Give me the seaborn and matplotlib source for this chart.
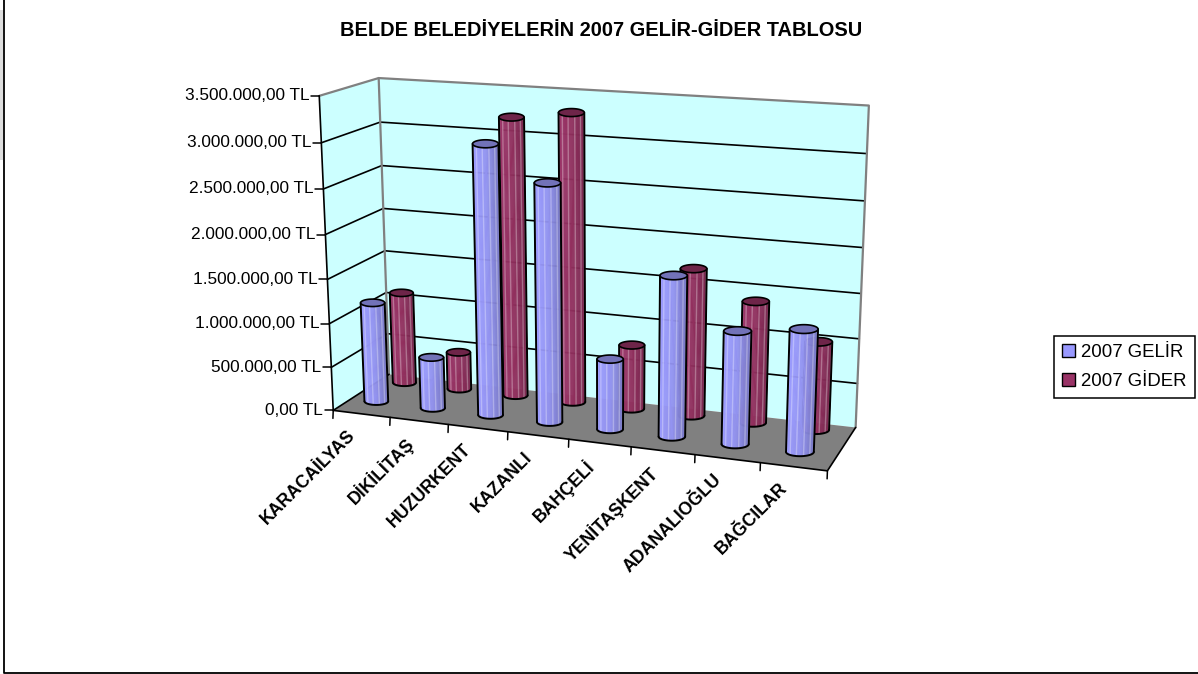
import numpy as np
import pandas as pd
import seaborn as sns
import matplotlib
matplotlib.use('Agg')
import matplotlib.pyplot as plt
from matplotlib.patches import Patch

categories = ['KARACAİLYAS', 'DİKİLİTAŞ', 'HUZURKENT', 'KAZANLI', 'BAHÇELİ',
              'YENİTAŞKENT', 'ADANALIOĞLU', 'BAĞCILAR']
gelir = [1150000, 590000, 3020000, 2650000, 790000, 1770000, 1240000, 1330000]
gider = [1080000, 440000, 3190000, 3280000, 740000, 1670000, 1370000, 990000]
y_ticks = [0, 500000, 1000000, 1500000, 2000000, 2500000, 3000000, 3500000]
y_labels = ['0,00 TL', '500.000,00 TL', '1.000.000,00 TL', '1.500.000,00 TL',
            '2.000.000,00 TL', '2.500.000,00 TL', '3.000.000,00 TL', '3.500.000,00 TL']

BLUE = '#9999FF'
RED = '#993366'
WALL = '#CCFFFF'
FLOOR = '#808080'
Y_MAX = 3500000

df = pd.DataFrame({'belde': categories, '2007 GELİR': gelir, '2007 GİDER': gider})

# box corners (category, depth, value share) and where they land on the canvas
world = np.array([[0, 0, 0], [8, 0, 0], [0, 1, 0], [8, 1, 0],
                  [0, 0, 1], [8, 0, 1], [0, 1, 1], [8, 1, 1], [4, 0, 0]], dtype=float)
canvas = np.array([[333, 408], [827, 472], [390, 378], [857, 426],
                   [319, 96], [843, 130], [379, 77], [866, 104], [567, 438]], dtype=float)


def fit_camera(w, c):
    rows, rhs = [], []
    for (a, b, v), (px, py) in zip(w, c):
        rows.append([a, b, v, 1, 0, 0, 0, 0, -px * a, -px * b, -px * v])
        rhs.append(px)
        rows.append([0, 0, 0, 0, a, b, v, 1, -py * a, -py * b, -py * v])
        rhs.append(py)
    sol = np.linalg.lstsq(np.array(rows), np.array(rhs), rcond=None)[0]
    return np.append(sol, 1).reshape(3, 4)


CAM = fit_camera(world, canvas)


def project(u, d, val):
    u, d, val = np.broadcast_arrays(np.asarray(u, float), np.asarray(d, float),
                                    np.asarray(val, float) / Y_MAX)
    pts = np.stack([u, d, val, np.ones_like(u)], axis=-1) @ CAM.T
    return pts[..., 0] / pts[..., 2], pts[..., 1] / pts[..., 2]


def ring(u, d, val, t):
    # flat ellipse round the projected axis, as the caps sit level on screen
    cx, cy = project(u, d, val)
    left, _ = project(u - 0.212, d, val)
    right, _ = project(u + 0.212, d, val)
    half = (right - left) / 2
    return cx + half * np.cos(t), cy + 0.31 * half * np.sin(t)


def cylinder(ax, u, d, value, light, mid, dark, cap, z):
    t = np.linspace(np.pi, 0, 37)
    xb, yb = ring(u, d, 0, t)
    xt, yt = ring(u, d, value, t)

    shades = sns.blend_palette([light, mid, dark], n_colors=30)
    span = xb[-1] - xb[0]
    for k in range(len(t) - 1):
        s = ((xb[k] + xb[k + 1]) / 2 - xb[0]) / span
        col = shades[min(int(s * 30), 29)]
        ax.fill([xb[k], xb[k + 1], xt[k + 1], xt[k]], [yb[k], yb[k + 1], yt[k + 1], yt[k]],
                facecolor=col, edgecolor=col, lw=0.4, zorder=z)
        # the pale vertical streaks of the facetted surface
        if k % 6 == 3:
            ax.plot([xb[k], xt[k]], [yb[k], yt[k]], color='white', alpha=0.3,
                    lw=1.0, zorder=z + 0.1)
    ax.plot(xb, yb, color='black', lw=1.4, zorder=z + 0.2)
    for i in (0, -1):
        ax.plot([xb[i], xt[i]], [yb[i], yt[i]], color='black', lw=1.4, zorder=z + 0.2)
    xc, yc = ring(u, d, value, np.linspace(0, 2 * np.pi, 61))
    ax.fill(xc, yc, facecolor=cap, edgecolor='black', lw=1.2, zorder=z + 0.3)


sns.set_theme(style='white')
plt.rcParams['font.family'] = ['Liberation Sans', 'DejaVu Sans']

fig, ax = plt.subplots(figsize=(11.98, 6.74), dpi=100)
fig.subplots_adjust(0, 0, 1, 1)
ax.set_xlim(0, 1198)
ax.set_ylim(674, 0)
ax.axis('off')

# walls and floor
for corners, col in [([(0, 1, 0), (8, 1, 0), (8, 1, Y_MAX), (0, 1, Y_MAX)], WALL),
                     ([(0, 0, 0), (0, 1, 0), (0, 1, Y_MAX), (0, 0, Y_MAX)], WALL),
                     ([(0, 0, 0), (8, 0, 0), (8, 1, 0), (0, 1, 0)], FLOOR)]:
    cu, cd, cv = zip(*corners)
    ax.fill(*project(cu, cd, cv), facecolor=col, edgecolor='none', zorder=1)

# gridlines round the walls
for v in y_ticks[1:-1]:
    x, y = project([0, 0, 8], [0, 1, 1], v)
    ax.plot(x, y, color='black', lw=1.2, zorder=2)
for cu, cd, cv in [([0, 0, 8, 8], [0, 1, 1, 1], [Y_MAX, Y_MAX, Y_MAX, 0]),
                   ([0, 0], [1, 1], [0, Y_MAX])]:
    ax.plot(*project(cu, cd, cv), color='#808080', lw=1.6, zorder=2)

# axes
ax.plot(*project([0, 0], [0, 0], [0, Y_MAX]), color='black', lw=1.2, zorder=3)
ax.plot(*project([0, 8, 8], [0, 0, 1], [0, 0, 0]), color='black', lw=1.2, zorder=3)
ax.plot(*project([0, 0], [0, 1], [0, 0]), color='black', lw=1.2, zorder=3)

for v, lab in zip(y_ticks, y_labels):
    x, y = project(0, 0, v)
    ax.plot([x - 8, x], [y, y], color='black', lw=1.1, zorder=3)
    ax.text(x - 10, y, lab, ha='right', va='center', fontsize=12.4, color='black')

for i, lab in enumerate(categories):
    x, y = project(i + 1, 0, 0)
    ax.plot([x, x - 0.3], [y, y + 8], color='black', lw=1.1, zorder=3)
    xc, yc = project(i + 0.5, 0, 0)
    ax.text(xc - 15, yc + 13, lab, rotation=45, rotation_mode='anchor', ha='right',
            va='top', fontsize=12.8, fontweight='bold', color='black')
x, y = project(0, 0, 0)
ax.plot([x, x - 0.3], [y, y + 8], color='black', lw=1.1, zorder=3)

z = 10
for i, v in enumerate(df['2007 GİDER']):
    cylinder(ax, i + 0.44, 0.84, v, '#9C3569', '#93305F', '#7A2850', '#6E2549', z)
    z += 1
for i, v in enumerate(df['2007 GELİR']):
    cylinder(ax, i + 0.44, 0.32, v, '#9C9CFF', '#9494F2', '#7A7AC6', '#7272B8', z)
    z += 1

ax.text(601, 30, 'BELDE BELEDİYELERİN 2007 GELİR-GİDER TABLOSU', ha='center', va='center',
        fontsize=14.4, fontweight='bold', color='black')

handles = [Patch(facecolor=BLUE, edgecolor='black', label='2007 GELİR'),
           Patch(facecolor=RED, edgecolor='black', label='2007 GİDER')]
leg = ax.legend(handles=handles, loc='center left', bbox_to_anchor=(1054, 367),
                bbox_transform=ax.transData, fontsize=13.4, frameon=True, fancybox=False,
                framealpha=1, edgecolor='black', handlelength=0.66, handleheight=0.72,
                handletextpad=0.35, borderpad=0.45, labelspacing=0.62, borderaxespad=0,
                labelcolor='black')
leg.get_frame().set_linewidth(1.1)
leg.set_zorder(200)

# chart area border
ax.plot([4, 4, 1198], [0, 672.5, 672.5], color='black', lw=1.3, zorder=1)
ax.fill_between([0, 3], [10, 10], [160, 160], color='#DDDDDD', lw=0, zorder=0.5)

fig.savefig('out.png', dpi=100)
